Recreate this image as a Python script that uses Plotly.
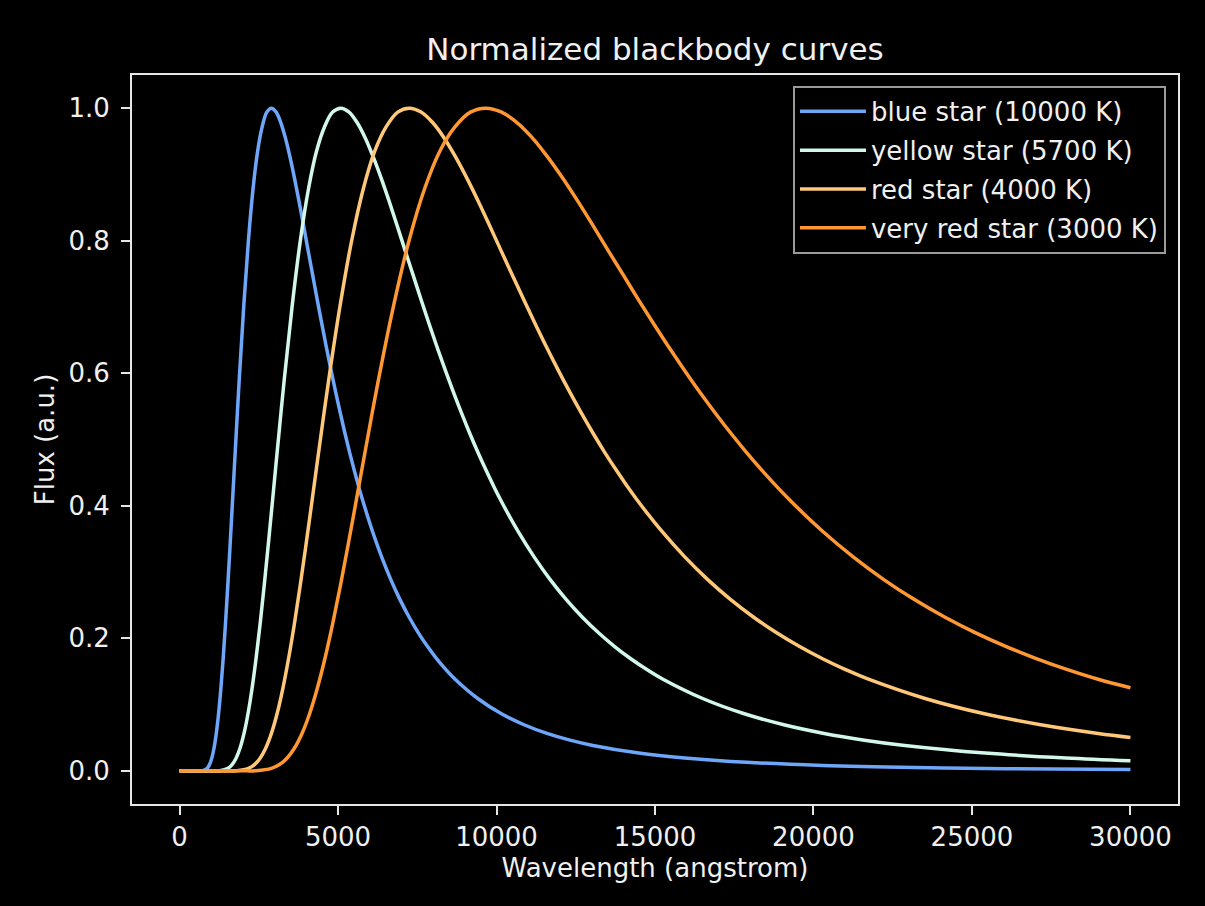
import plotly.graph_objects as go

# Wavelength (angstrom) and normalized flux
blue_x = [0, 725, 869, 942, 1014, 1087, 1159, 1232, 1304, 1377, 1449, 1521, 1594, 1666, 1739,
          1884, 2029, 2174, 2318, 2463, 2608, 2753, 2898,
          3043, 3188, 3333, 3478, 3623, 3767, 3912, 4057, 4202, 4347, 4492, 4637, 4782, 4927,
          5072, 5216, 5361, 5506, 5651, 5796,
          6086, 6376, 6665, 6955, 7245, 7535, 7825, 8114, 8404, 8694,
          9419, 10143, 10868, 11592, 12317, 13041, 14490, 15939, 17388, 20286, 23184, 26082, 30000]
blue_y = [0.0, 0.0003, 0.0038, 0.0091, 0.0187, 0.0341, 0.0565, 0.0866, 0.1246, 0.1699, 0.2217, 0.2788,
          0.3397, 0.4026, 0.4664,
          0.591, 0.704, 0.801, 0.878, 0.935, 0.972, 0.994, 1.0,
          0.9944, 0.979, 0.9562, 0.9276, 0.8952, 0.860, 0.823, 0.785, 0.7476, 0.710, 0.6736, 0.638, 0.6039,
          0.571, 0.5397, 0.5098, 0.4814, 0.4546, 0.4292, 0.4053,
          0.3616, 0.3229, 0.2886, 0.2584, 0.2318, 0.2083, 0.1875, 0.1691, 0.1528, 0.1383,
          0.1088, 0.0865, 0.0696, 0.0565, 0.0463, 0.0383, 0.0268, 0.0193, 0.0142, 0.0082, 0.0050, 0.0033,
          0.0020]

yellow_x = [0, 600, 1271, 1525, 1652, 1779, 1907, 2034, 2161, 2288, 2415, 2542, 2669, 2796, 2923, 3050,
            3305, 3559, 3813, 4067, 4321, 4576, 4830, 5084,
            5338, 5592, 5847, 6101, 6355, 6609, 6863, 7118, 7372, 7626, 7880, 8134, 8389, 8643,
            8897, 9151, 9405, 9660, 9914, 10168,
            10676, 11185, 11693, 12202, 12710, 13218, 13727, 14235, 14744, 15252,
            16523, 17794, 19065, 20336, 21607, 22878, 25420, 27962, 30000]
yellow_y = [0.0, 0.0, 0.0003, 0.0038, 0.0091, 0.0187, 0.0341, 0.0565, 0.0866, 0.1246, 0.1699, 0.2217, 0.2788,
            0.3397, 0.4026, 0.4664,
            0.591, 0.704, 0.801, 0.878, 0.935, 0.972, 0.994, 1.0,
            0.9944, 0.979, 0.9562, 0.9276, 0.8952, 0.860, 0.823, 0.785, 0.7476, 0.710, 0.6736, 0.638, 0.6039,
            0.571, 0.5397, 0.5098, 0.4814, 0.4546, 0.4292, 0.4053,
            0.3616, 0.3229, 0.2886, 0.2584, 0.2318, 0.2083, 0.1875, 0.1691, 0.1528, 0.1383,
            0.1088, 0.0865, 0.0696, 0.0565, 0.0463, 0.0383, 0.0268, 0.0193, 0.0151]

red_x = [0, 900, 1811, 2174, 2355, 2536, 2717, 2898, 3079, 3260, 3441, 3623, 3804, 3985, 4166, 4347,
         4709, 5072, 5434, 5796, 6158, 6521, 6883, 7245,
         7607, 7970, 8332, 8694, 9056, 9419, 9781, 10143, 10505, 10868, 11230, 11592, 11954, 12317,
         12679, 13041, 13403, 13766, 14128, 14490,
         15215, 15939, 16664, 17388, 18113, 18837, 19562, 20286, 21011, 21735,
         23546, 25358, 27169, 28980, 30000]
red_y = [0.0, 0.0, 0.0003, 0.0038, 0.0091, 0.0187, 0.0341, 0.0565, 0.0866, 0.1246, 0.1699, 0.2217, 0.2788,
         0.3397, 0.4026, 0.4664,
         0.591, 0.704, 0.801, 0.878, 0.935, 0.972, 0.994, 1.0,
         0.9944, 0.979, 0.9562, 0.9276, 0.8952, 0.860, 0.823, 0.785, 0.7476, 0.710, 0.6736, 0.638, 0.6039,
         0.571, 0.5397, 0.5098, 0.4814, 0.4546, 0.4292, 0.4053,
         0.3616, 0.3229, 0.2886, 0.2584, 0.2318, 0.2083, 0.1875, 0.1691, 0.1528, 0.1383,
         0.1088, 0.0865, 0.0696, 0.0565, 0.0505]

vred_x = [0, 1000, 2000, 2415, 2898, 3140, 3381, 3623, 3864, 4106, 4347, 4589, 4830, 5072, 5313, 5555, 5796,
          6279, 6762, 7245, 7728, 8211, 8694, 9177, 9660,
          10143, 10626, 11109, 11592, 12075, 12558, 13041, 13524, 14007, 14490, 14973, 15456, 15939, 16422,
          16905, 17388, 17871, 18354, 18837, 19320,
          20286, 21252, 22218, 23184, 24150, 25116, 26082, 27048, 28014, 28980, 30000]
vred_y = [0.0, 0.0, 0.0, 0.0003, 0.0038, 0.0091, 0.0187, 0.0341, 0.0565, 0.0866, 0.1246, 0.1699, 0.2217,
          0.2788, 0.3397, 0.4026, 0.4664,
          0.591, 0.704, 0.801, 0.878, 0.935, 0.972, 0.994, 1.0,
          0.9944, 0.979, 0.9562, 0.9276, 0.8952, 0.860, 0.823, 0.785, 0.7476, 0.710, 0.6736, 0.638, 0.6039,
          0.571, 0.5397, 0.5098, 0.4814, 0.4546, 0.4292, 0.4053,
          0.3616, 0.3229, 0.2886, 0.2584, 0.2318, 0.2083, 0.1875, 0.1691, 0.1528, 0.1383, 0.1255]

series_names = ["blue star (10000 K)", "yellow star (5700 K)", "red star (4000 K)", "very red star (3000 K)"]
series_colors = ["#6ea6fa", "#d2f8ea", "#ffc878", "#ff9833"]

x_ticks = [0, 5000, 10000, 15000, 20000, 25000, 30000]
x_tick_labels = ["0", "5000", "10000", "15000", "20000", "25000", "30000"]
y_ticks = [0.0, 0.2, 0.4, 0.6, 0.8, 1.0]
y_tick_labels = ["0.0", "0.2", "0.4", "0.6", "0.8", "1.0"]

FONT = "DejaVu Sans"
FG = "#f0f0f0"
SPINE = "#e6e6e6"

fig = go.Figure()
for i, (xs, ys, name, col) in enumerate(zip([blue_x, yellow_x, red_x, vred_x],
                                            [blue_y, yellow_y, red_y, vred_y],
                                            series_names, series_colors)):
    fig.add_trace(go.Scatter(x=xs, y=ys, mode="lines", name=name, legendgroup=f"g{i}",
                             line=dict(color=col, width=3.5, shape="spline", smoothing=1.0)))

axis_common = dict(showline=True, linecolor=SPINE, linewidth=2, mirror=True,
                   ticks="outside", ticklen=9, tickwidth=2, tickcolor=SPINE,
                   showgrid=False, zeroline=False,
                   tickfont=dict(family=FONT, size=26, color=FG))

fig.update_layout(
    width=1205, height=906,
    paper_bgcolor="black", plot_bgcolor="black",
    margin=dict(l=132, r=27, t=75, b=102),
    font=dict(family=FONT, size=26, color=FG),
    title=dict(text="Normalized blackbody curves", x=(132 + 1178) / 2 / 1205, xanchor="center",
               y=1 - 49 / 906, yanchor="middle", yref="container",
               font=dict(family=FONT, size=31, color=FG)),
    xaxis=dict(range=[-1500, 31500], tickvals=x_ticks, ticktext=x_tick_labels,
               title=dict(text="Wavelength (angstrom)", standoff=8,
                          font=dict(family=FONT, size=26, color=FG)),
               **axis_common),
    yaxis=dict(range=[-0.05, 1.05], tickvals=y_ticks, ticktext=y_tick_labels,
               ticklabelstandoff=6,
               title=dict(text="Flux (a.u.)", standoff=6,
                          font=dict(family=FONT, size=26, color=FG)),
               **axis_common),
    legend=dict(x=0.9885, xanchor="right", y=0.985, yanchor="top",
                bgcolor="black", bordercolor="#9a9a9a", borderwidth=2,
                font=dict(family=FONT, size=26, color=FG),
                itemwidth=66, tracegroupgap=2, traceorder="grouped"),
    showlegend=True,
)

fig.write_html("out.html")
